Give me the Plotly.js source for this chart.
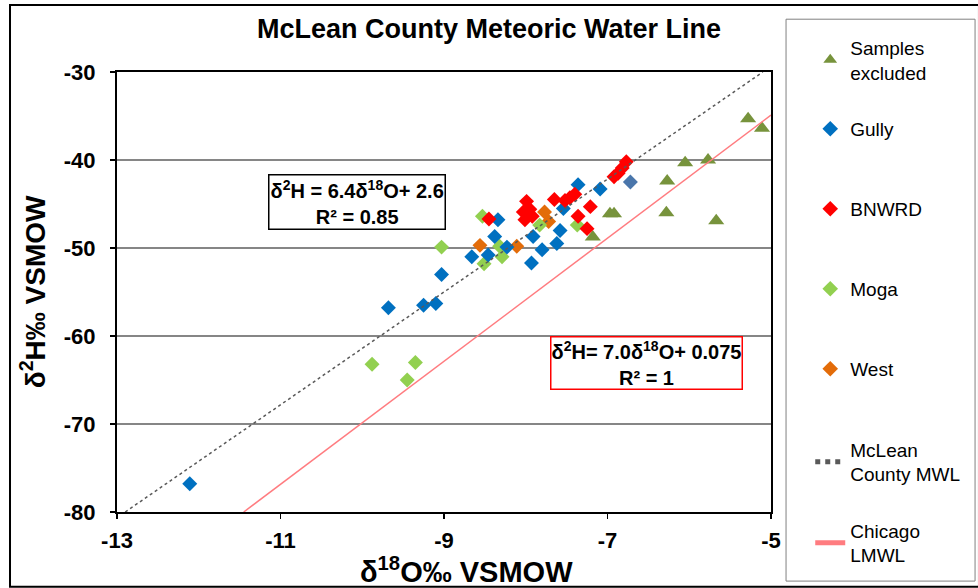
<!DOCTYPE html>
<html><head><meta charset="utf-8">
<script src="https://cdn.plot.ly/plotly-3.0.1.min.js"></script>
<style>html,body{margin:0;padding:0;background:#fff}#chart{width:978px;height:588px}</style>
</head><body><div id="chart"></div><script>
// Samples excluded (triangles)
const excludedX = [-5.28, -5.11, -6.05, -5.77, -6.27, -6.97, -6.92, -6.28, -5.67, -7.18];
const excludedY = [-35.3, -36.4, -40.3, -40.0, -42.4, -46.1, -46.1, -46.0, -46.9, -48.75];
// Gully
const gullyX = [-12.11, -9.68, -9.25, -9.10, -9.03, -8.66, -8.46, -8.38, -8.34, -8.23, -7.93, -7.80, -7.91, -7.62, -7.58, -7.54, -7.36, -7.09, -6.72];
const gullyY = [-76.8, -56.8, -56.5, -56.3, -53.0, -51.0, -50.8, -48.7, -46.8, -49.9, -51.7, -50.2, -48.7, -49.5, -48.0, -45.5, -42.8, -43.3, -42.5];
const gullyColors = ['#0070C0','#0070C0','#0070C0','#0070C0','#0070C0','#0070C0','#0070C0','#0070C0','#0070C0','#0070C0','#0070C0','#0070C0','#0070C0','#0070C0','#0070C0','#0070C0','#0070C0','#0070C0','#4A76AB'];
// BNWRD
const bnwrdX = [-8.45, -8.01, -7.99, -7.95, -8.03, -7.92, -7.65, -7.46, -7.40, -7.52, -7.21, -7.36, -7.25, -6.77, -6.82, -6.87, -6.92];
const bnwrdY = [-46.7, -46.8, -44.7, -45.6, -45.9, -46.4, -44.5, -44.3, -43.9, -44.6, -45.3, -46.4, -47.8, -40.2, -40.9, -41.5, -41.9];
// Moga
const mogaX = [-9.88, -9.35, -9.45, -9.03, -8.53, -8.51, -8.32, -8.29, -7.83, -7.37];
const mogaY = [-63.2, -63.0, -65.0, -49.9, -46.4, -51.8, -49.8, -51.0, -47.4, -47.4];
// West
const westX = [-8.56, -8.11, -7.77, -7.72];
const westY = [-49.7, -49.8, -45.9, -47.0];
// Lines (end points)
const mwlX = [-12.9, -5.1];
const mwlY = [-80, -30];
const chiX = [-11.45, -5.0];
const chiY = [-80, -34.9];

const seriesNames = ['Samples<br>excluded', 'Gully', 'BNWRD', 'Moga', 'West', 'McLean<br>County MWL', 'Chicago<br>LMWL'];
const xTicks = [-13, -11, -9, -7, -5];
const yTicks = [-30, -40, -50, -60, -70, -80];

const FONT = 'Liberation Sans, Arial, sans-serif';

function pts(x, y, name, rank, legend, symbol, color, size) {
  return {x: x, y: y, type: 'scatter', mode: 'markers', name: name, legend: legend,
    legendgroup: 'g' + rank, legendrank: rank,
    marker: {symbol: symbol, color: color, size: size, line: {width: 0}}};
}

const traces = [
  pts(excludedX, excludedY, seriesNames[0], 1, 'legend', 'triangle-up', '#77933C', 14),
  pts(westX, westY, seriesNames[4], 5, 'legend2', 'diamond', '#E36C09', 11.5),
  pts(mogaX, mogaY, seriesNames[3], 4, 'legend2', 'diamond', '#92D050', 11.5),
  pts(gullyX, gullyY, seriesNames[1], 2, 'legend2', 'diamond', gullyColors, 11.5),
  pts(bnwrdX, bnwrdY, seriesNames[2], 3, 'legend2', 'diamond', '#FF0000', 11.5),
  {x: chiX, y: chiY, type: 'scatter', mode: 'lines', name: seriesNames[6], legend: 'legend3', legendgroup: 'g7', legendrank: 7,
    line: {color: '#FF7C80', width: 1.5}},
  {x: mwlX, y: mwlY, type: 'scatter', mode: 'lines', name: seriesNames[5], legend: 'legend3', legendgroup: 'g6', legendrank: 6,
    line: {color: '#595959', width: 1.5, dash: 'dot'}}
];

const legendBase = {x: 1.06, xanchor: 'left', yanchor: 'middle', bgcolor: 'rgba(0,0,0,0)', borderwidth: 0,
  font: {size: 19, family: FONT, color: '#000'}, valign: 'middle', itemsizing: 'constant', traceorder: 'grouped'};

const layout = {
  width: 978, height: 588,
  margin: {l: 117, r: 207, t: 72, b: 76},
  paper_bgcolor: '#fff', plot_bgcolor: '#fff',
  font: {family: FONT, color: '#000'},
  title: {text: '<b>McLean County Meteoric Water Line</b>', font: {size: 27, family: FONT, color: '#000'},
    x: 0.5, xref: 'container', xanchor: 'center', y: 1 - 29/588, yref: 'container', yanchor: 'middle'},
  xaxis: {range: [-13, -5], tickvals: xTicks, ticktext: xTicks.map(String), showgrid: false, zeroline: false,
    showline: true, linecolor: '#000', linewidth: 2, mirror: true,
    ticks: 'outside', ticklen: 5, tickcolor: '#000', tickwidth: 1.5, ticklabelstandoff: 3,
    tickfont: {size: 22, family: FONT, weight: 'bold', color: '#000'}},
  yaxis: {range: [-80, -30], tickvals: yTicks, ticktext: yTicks.map(String), showgrid: true, gridcolor: '#868686', gridwidth: 1.5,
    zeroline: false, showline: true, linecolor: '#000', linewidth: 2, mirror: true,
    ticks: 'outside', ticklen: 5, tickcolor: '#000', tickwidth: 1.5, ticklabelstandoff: 10,
    tickfont: {size: 22, family: FONT, weight: 'bold', color: '#000'}},
  legend: Object.assign({}, legendBase, {y: 1.027, tracegroupgap: 10}),
  legend2: Object.assign({}, legendBase, {y: 0.598, tracegroupgap: 52.3}),
  legend3: Object.assign({}, legendBase, {y: 0.0216, tracegroupgap: 28.6}),
  showlegend: true,
  annotations: [
    {x: 0.534, y: -0.132, xref: 'paper', yref: 'paper', showarrow: false, xanchor: 'center', yanchor: 'middle',
      text: '<b>δ<sup>18</sup>O‰ VSMOW</b>', font: {size: 29, family: FONT, color: '#000'}},
    {x: -0.128, y: 0.5, xref: 'paper', yref: 'paper', showarrow: false, xanchor: 'center', yanchor: 'middle', textangle: -90,
      text: '<b>δ<sup>2</sup>H‰ VSMOW</b>', font: {size: 28, family: FONT, color: '#000'}},
    {x: -10.06, y: -44.77, xref: 'x', yref: 'y', showarrow: false,
      text: '<b>δ<sup>2</sup>H = 6.4δ<sup>18</sup>O+ 2.6<br>R² = 0.85</b>', align: 'center',
      font: {size: 20, family: FONT, color: '#000'}, bordercolor: '#000', borderwidth: 1.5, borderpad: 1, bgcolor: '#fff'},
    {x: -6.52, y: -63.1, xref: 'x', yref: 'y', showarrow: false,
      text: '<b>δ<sup>2</sup>H= 7.0δ<sup>18</sup>O+ 0.075<br>R² = 1</b>', align: 'center',
      font: {size: 20, family: FONT, color: '#000'}, bordercolor: '#FF0000', borderwidth: 1.5, borderpad: 0, bgcolor: '#fff'}
  ],
  shapes: [
    {type: 'rect', xref: 'paper', yref: 'paper', x0: 1.023, x1: 1.312, y0: -0.157, y1: 1.120,
      line: {color: '#808080', width: 1}},
    {type: 'rect', xref: 'paper', yref: 'paper', x0: -0.1636, x1: 1.318, y0: -0.17, y1: 1.152,
      line: {color: '#000', width: 2}}
  ]
};

Plotly.newPlot('chart', traces, layout, {displayModeBar: false, staticPlot: true});
</script></body></html>
